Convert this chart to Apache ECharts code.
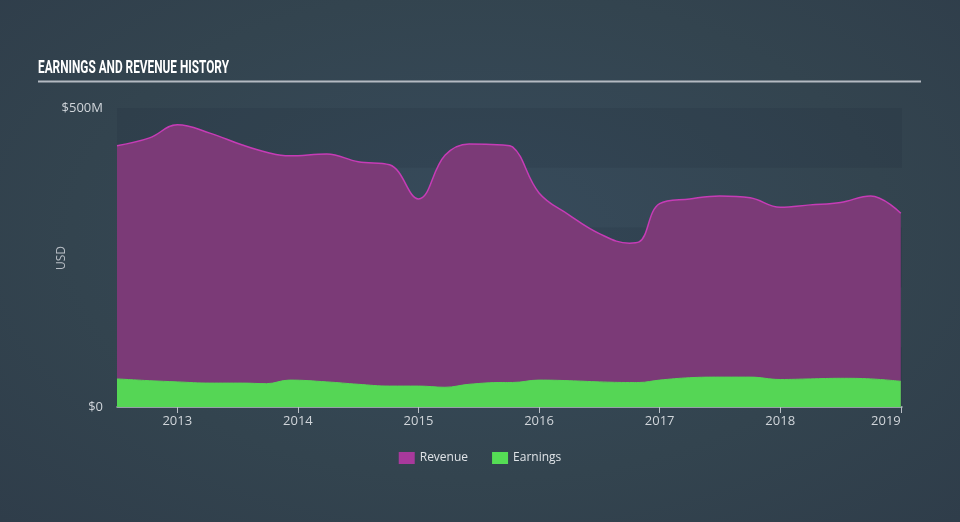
<!DOCTYPE html>
<html>
<head>
<meta charset="utf-8">
<script src="https://cdn.jsdelivr.net/npm/echarts@6/dist/echarts.min.js"></script>
<style>
  html, body { margin: 0; padding: 0; width: 960px; height: 522px; overflow: hidden; }
  body { background: radial-gradient(ellipse at 50% 45%, #374b5c 0%, #33444f 60%, #2f3d4a 100%); }
  #chart { width: 960px; height: 522px; }
</style>
</head>
<body>
<div id="chart"></div>
<script>
// Decimal-year positions of the data points
const periods = [2012.5, 2012.77, 2013.0, 2013.27, 2013.54, 2013.74, 2013.93, 2014.24, 2014.5, 2014.76,
                 2015.0, 2015.22, 2015.42, 2015.7, 2015.78, 2016.0, 2016.25, 2016.5, 2016.75, 2016.83,
                 2017.0, 2017.25, 2017.5, 2017.75, 2018.0, 2018.25, 2018.5, 2018.75, 2019.0];
// Revenue, USD millions
const revenue = [437, 450, 472, 458, 438, 426, 420, 423, 410, 405,
                 348, 421, 440, 438, 435, 358, 321, 290, 274, 276,
                 340, 348, 353, 350, 334, 338, 342, 353, 324];
// Earnings, USD millions
const earnings = [47, 44, 42, 40, 40, 39, 45, 42, 38, 35,
                  35, 33, 38, 41, 41, 45, 44, 42, 41, 41,
                  45, 49, 50, 50, 46, 47, 48, 47, 43];
const yearTicks = [2013, 2014, 2015, 2016, 2017, 2018, 2019];
const yTickLabels = { 0: '$0', 500: '$500M' };
const titleText = 'EARNINGS AND REVENUE HISTORY';
const yAxisName = 'USD';

const pair = (vals) => periods.map((p, i) => [p, vals[i]]);

// condensed look for the title: measure and squeeze horizontally
const titleFont = "bold 18px Roboto, 'DejaVu Sans', sans-serif";
const ctx = document.createElement('canvas').getContext('2d');
ctx.font = titleFont;
const titleScale = 191 / ctx.measureText(titleText).width;

const chart = echarts.init(document.getElementById('chart'));
chart.setOption({
  backgroundColor: 'transparent',
  animation: false,
  graphic: [
    {
      type: 'text', left: 38, top: 59,
      scaleX: titleScale, originX: 0,
      style: { text: titleText, font: titleFont, fill: '#ffffff' }
    },
    {
      type: 'line',
      shape: { x1: 38, y1: 81.5, x2: 921, y2: 81.5 },
      style: { stroke: '#b4bac2', lineWidth: 2 }
    },
    {
      type: 'text', x: 62, y: 258, rotation: Math.PI / 2,
      style: {
        text: yAxisName, fill: '#b9bfc6', align: 'center', verticalAlign: 'middle',
        font: "12px 'Open Sans', sans-serif"
      }
    }
  ],
  legend: {
    bottom: 53, left: 'center',
    itemWidth: 16, itemHeight: 12, itemGap: 24,
    icon: 'rect',
    textStyle: { color: '#dfe3e7', fontSize: 12, fontFamily: "'Open Sans', sans-serif" },
    data: ['Revenue', 'Earnings']
  },
  grid: { left: 117, right: 58, top: 108, bottom: 115, containLabel: false },
  xAxis: {
    type: 'value',
    min: 2012.5, max: 2019.01,
    axisLine: { show: true, lineStyle: { color: '#b9bfc6', width: 1.5 } },
    axisTick: { show: true, customValues: yearTicks, length: 6, lineStyle: { color: '#b9bfc6' } },
    axisLabel: {
      customValues: yearTicks, color: '#d0d5da', fontSize: 13, margin: 8,
      fontFamily: "'Open Sans', sans-serif", alignMaxLabel: 'right',
      formatter: (v) => String(Math.round(v))
    },
    splitLine: { show: false }
  },
  yAxis: {
    type: 'value',
    min: 0, max: 500, interval: 100,
    axisLine: { show: false }, axisTick: { show: false },
    axisLabel: {
      color: '#d0d5da', fontSize: 13, margin: 14,
      fontFamily: "'Open Sans', sans-serif",
      formatter: (v) => yTickLabels[v] || ''
    },
    splitLine: { show: false },
    splitArea: { show: true, areaStyle: { color: ['rgba(25,36,48,0.12)', 'rgba(0,0,0,0)'] } }
  },
  series: [
    {
      name: 'Revenue', type: 'line', data: pair(revenue),
      smooth: 0.4, symbol: 'none',
      itemStyle: { color: '#a8399c' },
      lineStyle: { color: '#c63cb6', width: 1.5 },
      areaStyle: { color: '#7b3a77', opacity: 1 },
      z: 2
    },
    {
      name: 'Earnings', type: 'line', data: pair(earnings),
      smooth: 0.4, symbol: 'none',
      itemStyle: { color: '#55dd55' },
      lineStyle: { color: '#55d655', width: 1 },
      areaStyle: { color: '#55d655', opacity: 1 },
      z: 3
    }
  ]
});
</script>
</body>
</html>
